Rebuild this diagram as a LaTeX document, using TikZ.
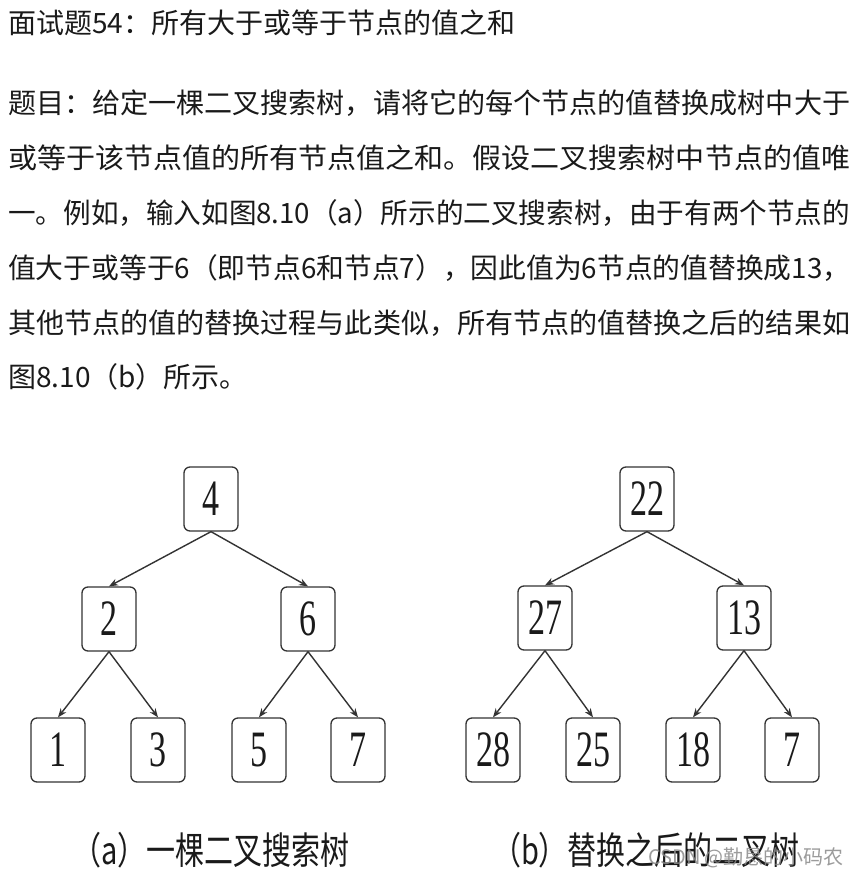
\documentclass[tikz,border=0pt]{standalone}
\usepackage{fontspec}
\usepackage{graphicx}
\usetikzlibrary{arrows.meta}
\setmainfont{Liberation Serif}
\newfontfamily\cjk{Noto Sans CJK SC}
\definecolor{ink}{HTML}{1A1A1A}
\definecolor{edgeGray}{HTML}{333333}
\definecolor{wmGray}{HTML}{8A8A8A}
\tikzset{
  keyBox/.style={draw=edgeGray, line width=1.3pt, rounded corners=6pt, fill=white,
    minimum width=54pt, minimum height=64pt, inner sep=0pt, text=ink},
  treeEdge/.style={draw=edgeGray, line width=1.4pt, -{Stealth[length=9pt,width=7pt]}},
  bodyLine/.style={anchor=base west, inner sep=0pt, text=ink, font=\cjk\fontsize{28}{28}\selectfont},
  captionLbl/.style={inner sep=0pt, text=ink},
  wmLbl/.style={inner sep=0pt, text=wmGray, opacity=0.85, font=\cjk\fontsize{20}{20}\selectfont},
}
\newlength\lineWd
\newcommand{\keyText}[1]{\scalebox{1}[1.5]{\fontsize{34}{34}\selectfont #1}}
\newcommand{\capText}[1]{\scalebox{1}[1.3]{\cjk\fontsize{29}{29}\selectfont #1}}
% stretch or squeeze a text line to the full column width
\newcommand{\fullLine}[1]{%
  \settowidth{\lineWd}{#1}%
  \pgfmathsetmacro\lineRatio{842/\lineWd}%
  \scalebox{\lineRatio}[1]{#1}}

\begin{document}
\begin{tikzpicture}[x=1pt,y=-1pt]
  \fill[white] (0,0) rectangle (858,881);
  \useasboundingbox (0,0) rectangle (858,881);

  % question text
  \node[bodyLine] (title) at (8,33) {面试题54：所有大于或等于节点的值之和};
  \node[bodyLine] (line1) at (8,113) {\fullLine{题目：给定一棵二叉搜索树，请将它的每个节点的值替换成树中大于}};
  \node[bodyLine] (line2) at (8,168) {\fullLine{或等于该节点值的所有节点值之和。假设二叉搜索树中节点的值唯}};
  \node[bodyLine] (line3) at (8,223) {\fullLine{一。例如，输入如图8.10（a）所示的二叉搜索树，由于有两个节点的}};
  \node[bodyLine] (line4) at (8,278) {\fullLine{值大于或等于6（即节点6和节点7），因此值为6节点的值替换成13，}};
  \node[bodyLine] (line5) at (8,333) {\fullLine{其他节点的值的替换过程与此类似，所有节点的值替换之后的结果如}};
  \node[bodyLine] (line6) at (8,387) {图8.10（b）所示。};

  % (a) input tree
  \node[keyBox] (a4) at (211,499) {\keyText{4}};
  \node[keyBox] (a2) at (109,619) {\keyText{2}};
  \node[keyBox] (a6) at (308,619) {\keyText{6}};
  \node[keyBox] (a1) at (58,750)  {\keyText{1}};
  \node[keyBox] (a3) at (158,750) {\keyText{3}};
  \node[keyBox] (a5) at (259,750) {\keyText{5}};
  \node[keyBox] (a7) at (358,750) {\keyText{7}};
  \draw[treeEdge] (a4.south) -- (a2.north);
  \draw[treeEdge] (a4.south) -- (a6.north);
  \draw[treeEdge] (a2.south) -- (a1.north);
  \draw[treeEdge] (a2.south) -- (a3.north);
  \draw[treeEdge] (a6.south) -- (a5.north);
  \draw[treeEdge] (a6.south) -- (a7.north);

  % (b) replaced tree
  \node[keyBox] (b22) at (647,499) {\keyText{22}};
  \node[keyBox] (b27) at (545,618) {\keyText{27}};
  \node[keyBox] (b13) at (744,618) {\keyText{13}};
  \node[keyBox] (b28) at (493,750) {\keyText{28}};
  \node[keyBox] (b25) at (593,750) {\keyText{25}};
  \node[keyBox] (b18) at (693,750) {\keyText{18}};
  \node[keyBox] (b7)  at (792,750) {\keyText{7}};
  \draw[treeEdge] (b22.south) -- (b27.north);
  \draw[treeEdge] (b22.south) -- (b13.north);
  \draw[treeEdge] (b27.south) -- (b28.north);
  \draw[treeEdge] (b27.south) -- (b25.north);
  \draw[treeEdge] (b13.south) -- (b18.north);
  \draw[treeEdge] (b13.south) -- (b7.north);

  % captions
  \node[captionLbl] (capA) at (211,850) {\capText{（a）一棵二叉搜索树}};
  \node[captionLbl] (capB) at (646,850) {\capText{（b）替换之后的二叉树}};
  \node[wmLbl] (wm) at (746,858) {CSDN @勤恳的小码农};
\end{tikzpicture}
\end{document}
